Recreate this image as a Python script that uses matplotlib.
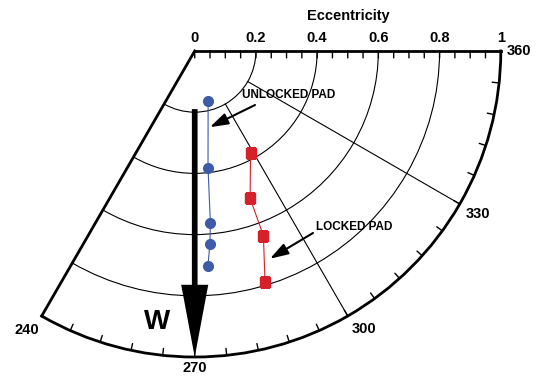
import numpy as np
import matplotlib
matplotlib.use("Agg")
import matplotlib.pyplot as plt

plt.rcParams['font.family'] = ['Liberation Sans', 'DejaVu Sans']
plt.rcParams['font.weight'] = 'bold'

# data (angle in degrees, eccentricity 0..1)
unlocked_ang = [285.0, 276.5, 275.2, 274.5, 273.5]
unlocked_ecc = [0.169, 0.384, 0.565, 0.632, 0.705]
locked_ang = [298.7, 290.6, 290.4, 286.9]
locked_ecc = [0.380, 0.514, 0.644, 0.790]

ecc_ticks = [0, 0.2, 0.4, 0.6, 0.8, 1]
ecc_labels = ['0', '0.2', '0.4', '0.6', '0.8', '1']
ring_vals = [0.2, 0.4, 0.6, 0.8]
grid_angles = [300, 330]
angle_labels = [240, 270, 300, 330, 360]
load_angle = 270

blue = '#3d5ba8'
red = '#d6202a'

fig = plt.figure(figsize=(5.37, 3.76), dpi=100)
# the wedge is drawn at 2/3 of the box, so the box is made 1.5x larger
ax = fig.add_axes([-0.1339, -0.153, 1.278, 1.221], projection='polar')
ax.set_thetamin(240)
ax.set_thetamax(360)
ax.set_ylim(0, 1)

# rings
ax.set_yticks(ring_vals)
ax.set_yticklabels([])
ax.tick_params(axis='y', length=0)
ax.yaxis.grid(True, color='black', lw=0.8)

ax.set_xticks([])
ax.xaxis.grid(False)

for name in ['polar', 'start', 'end']:
    ax.spines[name].set_linewidth(2.0)
ax.spines['inner'].set_visible(False)

# radial grid lines from 0.2 outward
for a in grid_angles:
    ax.plot([np.radians(a)] * 2, [0.2, 1.0], color='black', lw=0.8, zorder=1)

tick_len = 5
tick_kw = dict(arrowstyle='-', color='black', lw=1, shrinkA=0, shrinkB=0)

# angle ticks every 6 deg on the outer arc, pointing inward
for a in np.arange(246, 360, 6):
    t = np.radians(a)
    ax.annotate('', xy=(t, 1.0), xytext=(-tick_len * np.cos(t), -tick_len * np.sin(t)),
                textcoords='offset points', arrowprops=tick_kw, annotation_clip=False)

# eccentricity ticks every 0.05 along the top edge, pointing down
for r in np.arange(0, 1.001, 0.05):
    ax.annotate('', xy=(2 * np.pi, r), xytext=(0, -tick_len), textcoords='offset points',
                arrowprops=tick_kw, annotation_clip=False)

for r, lab in zip(ecc_ticks, ecc_labels):
    ax.annotate(lab, xy=(2 * np.pi, r), xytext=(0, 4), textcoords='offset points',
                ha='center', va='bottom', fontsize=10.5, fontweight='bold',
                annotation_clip=False)
fig.text(348 / 537, 1 - 16 / 376, 'Eccentricity', ha='center', va='center',
         fontsize=10.5, fontweight='bold')

# angle labels
label_offsets = {240: (-2, -5, 'right', 'top'), 270: (0, -3, 'center', 'top'),
                 300: (3, -4, 'left', 'top'), 330: (4, -2, 'left', 'top'),
                 360: (4, 0, 'left', 'center')}
for a in angle_labels:
    dx, dy, ha, va = label_offsets[a]
    ax.annotate(str(a), xy=(np.radians(a), 1.0), xytext=(dx, dy),
                textcoords='offset points', ha=ha, va=va, fontsize=10.5,
                fontweight='bold', annotation_clip=False)

# load vector
ax.annotate('', xy=(np.radians(load_angle), 1.0), xytext=(np.radians(load_angle), 0.19),
            arrowprops=dict(arrowstyle='simple,head_length=5.2,head_width=1.95,tail_width=0.41',
                            mutation_scale=10, color='black', lw=0, shrinkA=0, shrinkB=0),
            zorder=3)
fig.text(157 / 537, 1 - 322 / 376, 'W', fontsize=20, fontweight='bold', ha='center', va='center')

# data series
ax.plot(np.radians(unlocked_ang), unlocked_ecc, color=blue, lw=0.8, marker='o',
        markersize=7, zorder=4)
ax.plot(np.radians(locked_ang), locked_ecc, color=red, lw=0.8, marker='s',
        markersize=7.5, zorder=4)

# callouts
arrow_kw = dict(arrowstyle='-|>,head_length=1.1,head_width=0.35',
                mutation_scale=10, color='black', lw=1.5, shrinkA=0, shrinkB=0)
ax.annotate('', xy=(np.radians(281.2), 0.254), xytext=(255, 376 - 105),
            textcoords='figure pixels', arrowprops=arrow_kw)
fig.text(242 / 537, 1 - 95 / 376, 'UNLOCKED PAD', fontsize=8.5, fontweight='bold',
         ha='left', va='center')
ax.annotate('', xy=(np.radians(289.9), 0.722), xytext=(313, 376 - 233),
            textcoords='figure pixels', arrowprops=arrow_kw)
fig.text(316 / 537, 1 - 227 / 376, 'LOCKED PAD', fontsize=8.5, fontweight='bold',
         ha='left', va='center')

fig.savefig('out.png', dpi=100)
